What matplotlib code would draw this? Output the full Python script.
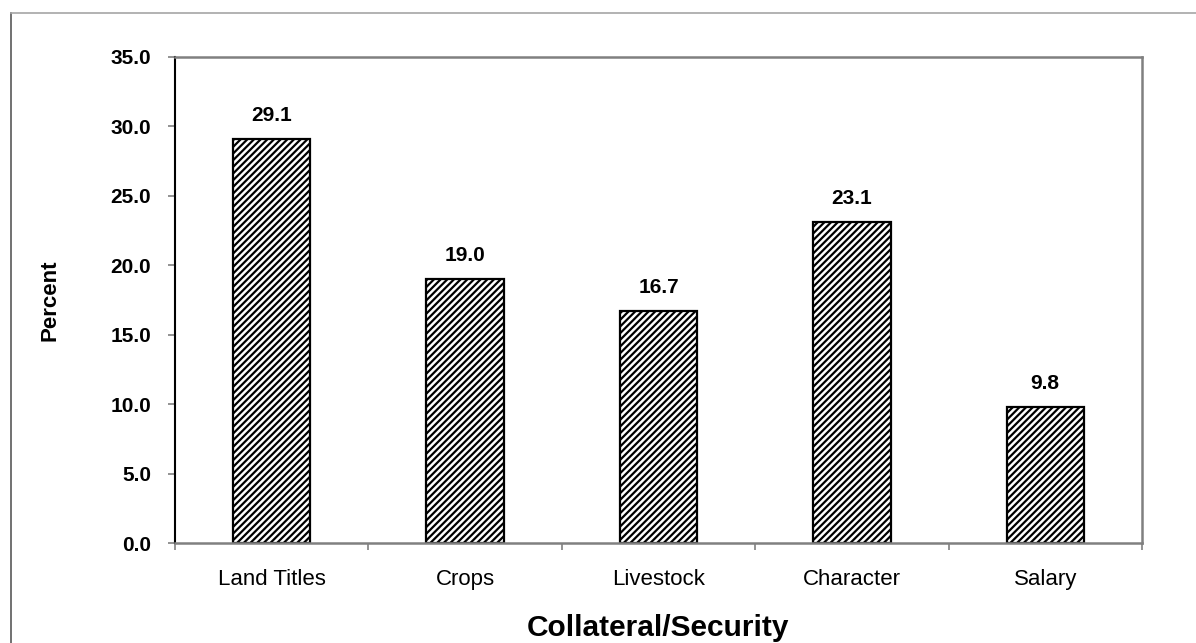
import matplotlib.pyplot as plt
from matplotlib.lines import Line2D

plt.rcParams['font.family'] = ['Liberation Sans', 'DejaVu Sans']
plt.rcParams['hatch.linewidth'] = 1.6

categories = ['Land Titles', 'Crops', 'Livestock', 'Character', 'Salary']
percent = [29.1, 19.0, 16.7, 23.1, 9.8]

fig = plt.figure(figsize=(11.96, 6.43), dpi=100)
ax = fig.add_axes([0.1463, 0.1555, 0.8085, 0.7559])

# outer frame (left and top only)
fig.add_artist(Line2D([11/1196, 11/1196], [0, 1 - 13/643], color='#595959', lw=1.2))
fig.add_artist(Line2D([11/1196, 1], [1 - 13/643, 1 - 13/643], color='#a6a6a6', lw=1.2))

x = range(len(categories))
bars = ax.bar(x, percent, width=0.4, color='white', edgecolor='black',
              hatch='/////', linewidth=1.6)
for b, v in zip(bars, percent):
    ax.text(b.get_x() + b.get_width() / 2, v + 1.0, f'{v:.1f}', ha='center', va='bottom',
            fontsize=15, fontweight='bold')

ax.set_xlim(-0.5, len(categories) - 0.5)
ax.set_ylim(0, 35)
ax.set_yticks([0, 5, 10, 15, 20, 25, 30, 35])
ax.set_yticklabels([f'{t:.1f}' for t in ax.get_yticks()], fontsize=15, fontweight='bold')
ax.set_xticks(list(x))
ax.set_xticklabels(categories, fontsize=16)
ax.tick_params(axis='x', length=0, pad=19)
ax.set_xticks([i - 0.5 for i in range(len(categories) + 1)], minor=True)
ax.tick_params(axis='x', which='minor', length=5, color='#808080', width=1.2)
ax.tick_params(axis='y', length=5, color='#808080', width=1.2, pad=12)

ax.spines['left'].set_color('black')
ax.spines['left'].set_linewidth(1.5)
for s in ['top', 'right', 'bottom']:
    ax.spines[s].set_color('#808080')
    ax.spines[s].set_linewidth(1.8)

ax.set_ylabel('Percent', fontsize=16, fontweight='bold', labelpad=36)
ax.set_xlabel('Collateral/Security', fontsize=21.5, fontweight='bold', labelpad=17)

fig.savefig('out.png', dpi=100)
